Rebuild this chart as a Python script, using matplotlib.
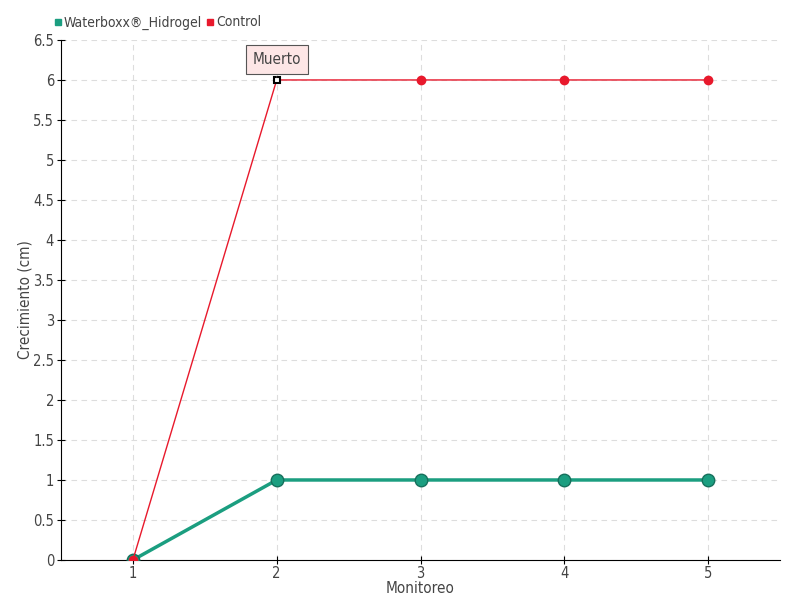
import matplotlib
matplotlib.use("Agg")
import matplotlib.pyplot as plt
from matplotlib.lines import Line2D
from matplotlib import font_manager

names = {f.name for f in font_manager.fontManager.ttflist}
fam = ['Liberation Sans Narrow', 'DejaVu Sans'] if 'Liberation Sans Narrow' in names else ['DejaVu Sans']
plt.rcParams['font.family'] = fam
plt.rcParams['font.stretch'] = 'condensed'
plt.rcParams['font.weight'] = 'light'

monitoreo = [1, 2, 3, 4, 5]
waterboxx = [0, 1, 1, 1, 1]
control = [0, 6, 6, 6, 6]
yticks = [0, 0.5, 1, 1.5, 2, 2.5, 3, 3.5, 4, 4.5, 5, 5.5, 6, 6.5]
ytick_labels = ['0', '0.5', '1', '1.5', '2', '2.5', '3', '3.5', '4', '4.5', '5', '5.5', '6', '6.5']

green = '#1b9e80'
red = '#e8192c'
txt = '#444444'

fig = plt.figure(figsize=(8, 6), dpi=100)
ax = fig.add_axes([0.07625, 0.0667, 0.89875, 0.8667])

ax.plot(monitoreo, waterboxx, color=green, lw=2.5, marker='o', ms=9,
        markerfacecolor=green, markeredgecolor='#16705c', markeredgewidth=1, zorder=3)
ax.plot(monitoreo, control, color=red, lw=1, zorder=4)
ax.plot([m for i, m in enumerate(monitoreo) if i != 1], [c for i, c in enumerate(control) if i != 1],
        ls='none', marker='o', ms=6, color=red, markeredgecolor=red, zorder=5)
ax.plot(monitoreo[1], control[1], ls='none', marker='s', ms=5, markerfacecolor='white',
        markeredgecolor='black', markeredgewidth=1.5, zorder=6)

ax.annotate('Muerto', xy=(monitoreo[1], control[1]), xytext=(0, 15), textcoords='offset points',
            ha='center', va='center', fontsize=11, color=txt,
            bbox=dict(boxstyle='square,pad=0.45', fc='#fde6e6', ec='#555555', lw=0.8),
            arrowprops=dict(arrowstyle='-', color='#555555', lw=0.8), zorder=7)

ax.set_xlim(0.5, 5.5)
ax.set_ylim(0, 6.5)
ax.set_xticks(monitoreo)
ax.set_xticklabels([str(m) for m in monitoreo])
ax.set_yticks(yticks)
ax.set_yticklabels(ytick_labels)
ax.grid(True, ls=(0, (5, 4)), color='#dddddd', lw=0.8)
ax.set_axisbelow(True)
for s in ['top', 'right']:
    ax.spines[s].set_visible(False)
ax.spines['left'].set_color('black')
ax.spines['bottom'].set_color('black')
ax.tick_params(axis='both', direction='inout', length=6, labelsize=10.5, colors='black', labelcolor=txt)
ax.tick_params(axis='x', pad=1)
ax.tick_params(axis='y', pad=2)
ax.set_xlabel('Monitoreo', fontsize=11, color=txt)
ax.set_ylabel('Crecimiento (cm)', fontsize=11, color=txt)
ax.xaxis.set_label_coords(0.5, -0.040)
ax.yaxis.set_label_coords(-0.040, 0.5)

handles = [Line2D([], [], ls='none', marker='s', ms=4.5, color=green),
           Line2D([], [], ls='none', marker='s', ms=4.5, color=red)]
leg = fig.legend(handles, ['Waterboxx®_Hidrogel', 'Control'], loc='upper left',
                 bbox_to_anchor=(0.052, 0.995), ncol=2, frameon=False, fontsize=10,
                 handlelength=0.5, handletextpad=0.2, columnspacing=0.3)
for t in leg.get_texts():
    t.set_color(txt)

fig.savefig('out.png', dpi=100)
